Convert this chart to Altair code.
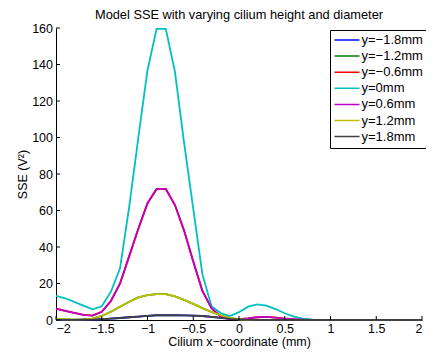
import altair as alt
import pandas as pd

# Cilium x-coordinate (mm)
x_mm = [-2.0, -1.9, -1.8, -1.7, -1.6, -1.5, -1.4, -1.3, -1.2, -1.1, -1.0,
        -0.9, -0.8, -0.7, -0.6, -0.5, -0.4, -0.3, -0.2, -0.1, 0.0,
        0.1, 0.2, 0.3, 0.4, 0.5, 0.6, 0.7, 0.8, 0.9, 1.0,
        1.1, 1.2, 1.3, 1.4, 1.5, 1.6, 1.7, 1.8, 1.9, 2.0]

# SSE for |y| = 1.8 mm
sse_18 = [0.05, 0.05, 0.1, 0.15, 0.2, 0.4, 0.7, 1.1, 1.5, 1.9, 2.3,
          2.6, 2.7, 2.6, 2.5, 2.4, 2.2, 1.7, 1.2, 0.6, 0.3,
          0.1, 0, 0, 0, 0, 0, 0, 0, 0, 0,
          0, 0, 0, 0, 0, 0, 0, 0, 0, 0]
# SSE for |y| = 1.2 mm
sse_12 = [0.5, 0.3, 0.2, 0.3, 0.8, 2.2, 4.5, 7.3, 10, 12.4, 13.6,
          14.2, 14.2, 12.9, 11, 8.8, 6.5, 4.4, 2.6, 1.2, 0.4,
          0.1, 0.05, 0, 0, 0, 0, 0, 0, 0, 0,
          0, 0, 0, 0, 0, 0, 0, 0, 0, 0]
# SSE for |y| = 0.6 mm
sse_06 = [6.2, 5.0, 3.9, 2.8, 2.4, 4.5, 10.4, 20, 35, 50, 64,
          71.8, 71.8, 63, 49, 32, 16, 6.5, 1.8, 0.6, 0.5,
          0.9, 1.5, 1.7, 1.3, 0.8, 0.4, 0.2, 0.05, 0, 0,
          0, 0, 0, 0, 0, 0, 0, 0, 0, 0]
# SSE for y = 0 mm
sse_00 = [13.2, 11.9, 9.9, 7.9, 5.9, 7.5, 15.5, 28.3, 62, 100, 137,
          159.5, 159.5, 136, 97, 61, 25, 7.5, 3.8, 2.2, 4.3,
          7.3, 8.6, 7.9, 6.0, 3.7, 1.8, 0.7, 0.2, 0.05, 0,
          0, 0, 0, 0, 0, 0, 0, 0, 0, 0]

series_labels = ["y=\u22121.8mm", "y=\u22121.2mm", "y=\u22120.6mm", "y=0mm",
                 "y=0.6mm", "y=1.2mm", "y=1.8mm"]
series_values = [sse_18, sse_12, sse_06, sse_00, sse_06, sse_12, sse_18]
series_colors = ["#0000ff", "#008000", "#ff0000", "#00bfbf",
                 "#bf00bf", "#bfbf00", "#404040"]

x_ticks = [-2, -1.5, -1, -0.5, 0, 0.5, 1, 1.5, 2]
y_ticks = [0, 20, 40, 60, 80, 100, 120, 140, 160]

rows = []
for k, (lab, vals) in enumerate(zip(series_labels, series_values)):
    for i, (xv, yv) in enumerate(zip(x_mm, vals)):
        rows.append({"series": lab, "k": k, "x": xv, "sse": yv})
df = pd.DataFrame(rows)

FONT = "Liberation Sans"
W, H = 366, 292

xscale = alt.Scale(domain=[-2, 2], nice=False, zero=False)
yscale = alt.Scale(domain=[0, 160], nice=False)
x_axis = alt.Axis(values=x_ticks, format="~g", title="Cilium x\u2212coordinate (mm)",
                  labelPadding=2, titlePadding=1, labelOverlap=False)
y_axis = alt.Axis(values=y_ticks, title="SSE (V\u00b2)", labelPadding=3.5,
                  titlePadding=2, labelOverlap=False)

lines = alt.Chart(df).mark_line(strokeWidth=1.8).encode(
    x=alt.X("x:Q", scale=xscale, axis=x_axis),
    y=alt.Y("sse:Q", scale=yscale, axis=y_axis),
    color=alt.Color("series:N", sort=series_labels,
                    scale=alt.Scale(domain=series_labels, range=series_colors),
                    legend=alt.Legend(title=None, orient="none", legendX=274, legendY=2,
                                      symbolType="stroke", symbolSize=625,
                                      symbolStrokeWidth=1.5, clipHeight=13,
                                      rowPadding=2.1, padding=3.5, labelOffset=1,
                                      labelFontSize=13, labelFont=FONT,
                                      strokeColor="black", fillColor="white")),
    detail="k:O",
)

xt = pd.DataFrame({"t": x_ticks})
yt = pd.DataFrame({"t": y_ticks})
xtick_marks = alt.Chart(xt).mark_rule(color="black", strokeWidth=1).encode(
    x=alt.X("t:Q", scale=xscale, axis=x_axis), y=alt.value(H), y2=alt.value(H - 4))
ytick_marks = alt.Chart(yt).mark_rule(color="black", strokeWidth=1).encode(
    y=alt.Y("t:Q", scale=yscale, axis=y_axis), x=alt.value(0), x2=alt.value(4))

chart = alt.layer(lines, xtick_marks, ytick_marks).properties(
    width=W, height=H,
    autosize=alt.AutoSizeParams(type="none"),
    padding={"left": 48, "top": 20, "right": 4, "bottom": 30},
    title=alt.TitleParams("Model SSE with varying cilium height and diameter",
                          font=FONT, fontSize=12.8, fontWeight="normal",
                          anchor="middle", baseline="alphabetic", offset=-10,
                          color="black"),
).configure_view(stroke=None).configure_axis(
    grid=False, ticks=False, domainColor="black", domainWidth=1,
    labelColor="black", labelFont=FONT, labelFontSize=12.5,
    titleColor="black", titleFont=FONT, titleFontSize=12.5, titleFontWeight="normal",
).configure_legend(strokeWidth=1, labelColor="black")

chart.save("out.html", embed_options={"renderer": "svg", "actions": False})
